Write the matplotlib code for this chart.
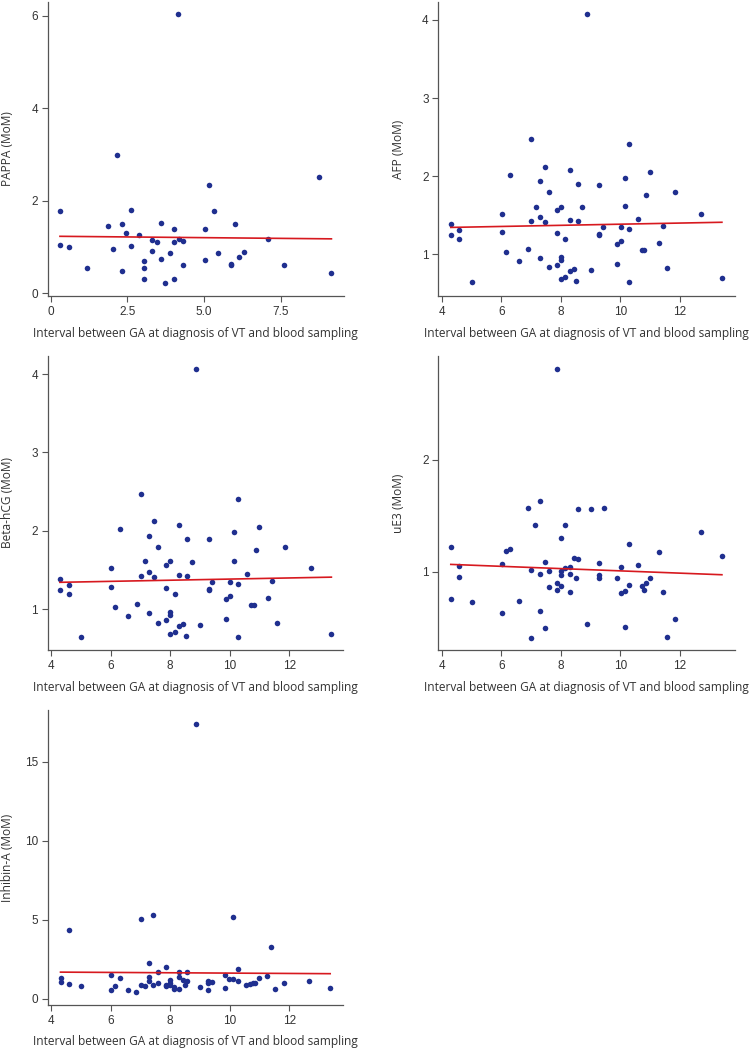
import numpy as np
import matplotlib.pyplot as plt

xlab = "Interval between GA at diagnosis of VT and blood sampling"

pappa_x = [0.30, 0.30, 0.59, 1.17, 1.88, 2.02, 2.16, 2.32, 2.32, 2.45, 2.60, 2.60, 2.88, 3.03, 3.03,
           3.03, 3.30, 3.30, 3.46, 3.58, 3.58, 3.73, 3.88, 4.01, 4.01, 4.01, 4.15, 4.17, 4.30, 4.30,
           5.02, 5.02, 5.16, 5.32, 5.45, 5.87, 5.87, 6.02, 6.15, 6.30, 7.09, 7.60, 8.73, 9.15]
pappa_y = [1.78, 1.05, 1.00, 0.55, 1.46, 0.95, 2.98, 1.49, 0.48, 1.30, 1.79, 1.02, 1.26, 0.69, 0.54,
           0.31, 1.16, 0.91, 1.10, 1.52, 0.73, 0.22, 0.87, 1.40, 1.10, 0.30, 6.04, 1.18, 1.12, 0.61,
           1.39, 0.72, 2.34, 1.78, 0.87, 0.64, 0.61, 1.50, 0.79, 0.90, 1.17, 0.61, 2.51, 0.43]

afp_x = [4.30, 4.30, 4.59, 4.59, 5.02, 6.02, 6.02, 6.15, 6.30, 6.59, 6.88, 7.01, 7.01, 7.15, 7.29,
         7.29, 7.29, 7.45, 7.45, 7.59, 7.59, 7.87, 7.87, 7.87, 8.01, 8.01, 8.01, 8.01, 8.15, 8.15,
         8.29, 8.29, 8.29, 8.44, 8.52, 8.58, 8.58, 8.72, 8.87, 9.00, 9.29, 9.29, 9.29, 9.42, 9.87,
         9.87, 10.01, 10.01, 10.14, 10.14, 10.29, 10.29, 10.29, 10.58, 10.71, 10.80, 10.99, 10.87,
         11.29, 11.43, 11.57, 11.85, 12.71, 13.41]
afp_y = [1.39, 1.24, 1.31, 1.20, 0.64, 1.52, 1.28, 1.03, 2.02, 0.91, 1.07, 1.42, 2.47, 1.61, 1.94,
         1.48, 0.95, 1.41, 2.12, 1.80, 0.83, 1.56, 1.27, 0.86, 1.61, 0.96, 0.93, 0.68, 1.20, 0.71,
         2.08, 1.44, 0.79, 0.81, 0.66, 1.90, 1.43, 1.60, 4.07, 0.80, 1.89, 1.26, 1.24, 1.35, 1.13,
         0.87, 1.35, 1.17, 1.98, 1.62, 2.41, 1.32, 0.64, 1.45, 1.06, 1.05, 2.05, 1.76,
         1.14, 1.36, 0.82, 1.80, 1.52, 0.69]

# the Beta-hCG panel shows the very same points as the AFP panel
hcg_x = list(afp_x)
hcg_y = list(afp_y)

ue3_x = [4.30, 4.30, 4.59, 4.59, 5.02, 6.02, 6.02, 6.15, 6.30, 6.59, 6.88, 7.01, 7.01, 7.14, 7.29,
         7.29, 7.29, 7.45, 7.45, 7.59, 7.59, 7.87, 7.87, 7.88, 8.01, 8.01, 8.01, 8.01, 8.15, 8.15,
         8.29, 8.29, 8.29, 8.44, 8.52, 8.58, 8.59, 8.87, 9.01, 9.29, 9.29, 9.29, 9.45, 9.87, 10.01,
         10.01, 10.14, 10.14, 10.29, 10.29, 10.58, 10.71, 10.80, 10.87, 11.01, 11.29, 11.43, 11.57,
         11.85, 12.71, 13.41]
ue3_y = [1.22, 0.76, 1.05, 0.95, 0.73, 1.07, 0.63, 1.19, 1.20, 0.74, 1.57, 1.02, 0.41, 1.42, 1.63,
         0.98, 0.65, 1.09, 0.50, 1.01, 0.86, 0.90, 0.84, 2.81, 1.30, 1.01, 0.97, 0.87, 1.03, 1.42,
         1.04, 0.98, 0.82, 1.12, 0.94, 1.11, 1.56, 0.53, 1.56, 1.08, 0.97, 0.94, 1.57, 0.94, 1.04,
         0.81, 0.83, 0.51, 1.25, 0.88, 1.06, 0.87, 0.84, 0.90, 0.94, 1.18, 0.82, 0.42,
         0.58, 1.36, 1.14]

inh_x = [4.32, 4.32, 4.60, 4.60, 5.02, 6.02, 6.02, 6.16, 6.30, 6.57, 6.86, 7.01, 7.01, 7.14, 7.30,
         7.30, 7.30, 7.43, 7.43, 7.58, 7.58, 7.85, 7.85, 7.85, 8.00, 8.00, 8.00, 8.13, 8.13, 8.28,
         8.28, 8.28, 8.42, 8.49, 8.57, 8.57, 8.86, 9.00, 9.27, 9.27, 9.27, 9.42, 9.84, 9.84, 9.98,
         10.11, 10.11, 10.26, 10.26, 10.55, 10.68, 10.77, 10.85, 10.97, 11.25, 11.40, 11.53, 11.82,
         12.67, 13.37]
inh_y = [1.33, 1.05, 4.37, 0.93, 0.82, 1.50, 0.55, 0.80, 1.33, 0.55, 0.42, 5.04, 0.89, 0.80, 2.30,
         1.41, 1.16, 5.34, 0.86, 1.69, 1.03, 2.00, 0.82, 0.91, 1.20, 0.99, 0.89, 0.78, 0.65, 1.69,
         1.41, 0.61, 1.20, 0.86, 1.71, 1.14, 17.42, 0.74, 1.16, 0.99, 0.57, 1.05, 1.54, 0.68, 1.24,
         5.21, 1.29, 1.88, 1.14, 0.86, 0.93, 0.99, 1.01, 1.31, 1.46, 3.27, 0.65, 1.01,
         1.16, 0.72]

panels = [
    (pappa_x, pappa_y, "PAPPA (MoM)", [0, 2.5, 5, 7.5], ["0", "2.5", "5.0", "7.5"], [0, 2, 4, 6],
     (-0.1, 9.56), (-0.06, 6.3), [47.7, 2, 344, 296]),
    (afp_x, afp_y, "AFP (MoM)", [4, 6, 8, 10, 12], None, [1, 2, 3, 4],
     (3.88, 13.85), (0.465, 4.23), [438.3, 2, 735, 296]),
    (hcg_x, hcg_y, "Beta-hCG (MoM)", [4, 6, 8, 10, 12], None, [1, 2, 3, 4],
     (3.89, 13.81), (0.48, 4.23), [47.7, 356, 343.3, 650]),
    (ue3_x, ue3_y, "uE3 (MoM)", [4, 6, 8, 10, 12], None, [1, 2],
     (3.88, 13.85), (0.30, 2.93), [438.3, 356, 735, 650]),
    (inh_x, inh_y, "Inhibin-A (MoM)", [4, 6, 8, 10, 12], None, [0, 5, 10, 15],
     (3.89, 13.81), (-0.38, 18.29), [47.7, 710, 343.3, 1005]),
]

W, H = 750, 1052
fig = plt.figure(figsize=(W / 100, H / 100), dpi=100)

for xs, ys, ylab, xt, xtl, yt, xl, yl, box in panels:
    l, t, r, b = box
    ax = fig.add_axes([l / W, 1 - b / H, (r - l) / W, (b - t) / H])
    ax.scatter(xs, ys, s=16, color="#1f2f8f", zorder=3, linewidths=0)
    k, c = np.polyfit(xs, ys, 1)
    xx = np.array([min(xs), max(xs)])
    ax.plot(xx, c + k * xx, color="#d7191f", lw=1.2, zorder=4)
    ax.set_xlim(*xl)
    ax.set_ylim(*yl)
    ax.set_xticks(xt)
    if xtl:
        ax.set_xticklabels(xtl)
    ax.set_yticks(yt)
    for s in ["top", "right"]:
        ax.spines[s].set_visible(False)
    for s in ["left", "bottom"]:
        ax.spines[s].set_color("#555555")
        ax.spines[s].set_linewidth(0.9)
    ax.tick_params(length=4, width=0.8, color="#555555", labelsize=8.5, labelcolor="#333333", pad=3)
    for lab in ax.get_xticklabels() + ax.get_yticklabels():
        lab.set_family("Liberation Sans")
    ax.set_xlabel(xlab, fontsize=8.6, family="Open Sans", color="#333333")
    ax.set_ylabel(ylab, fontsize=8.6, family="Open Sans", color="#333333")
    ax.xaxis.set_label_coords(0.5, -37 / (b - t), transform=ax.transAxes)
    ax.xaxis.label.set_verticalalignment("center")
    ax.yaxis.set_label_coords(-40 / (r - l), 0.5, transform=ax.transAxes)
    ax.yaxis.label.set_verticalalignment("center")

fig.savefig("out.png", dpi=100)
